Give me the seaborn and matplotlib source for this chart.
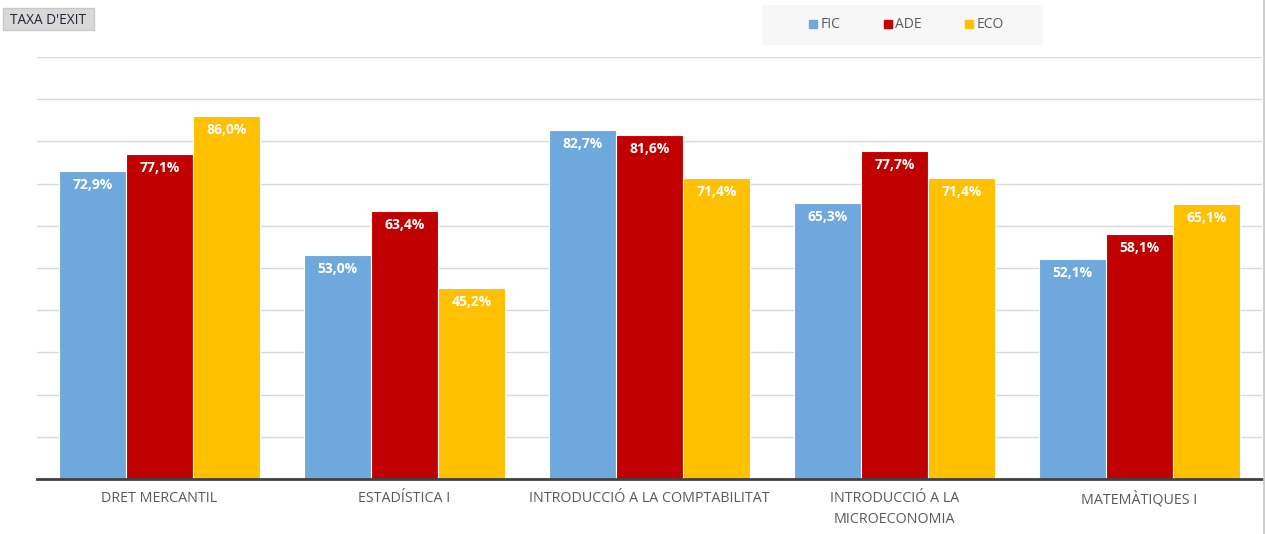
import pandas as pd
import matplotlib.pyplot as plt
import seaborn as sns
from matplotlib.lines import Line2D
from matplotlib.patches import Rectangle

subjects = ['DRET MERCANTIL', 'ESTADÍSTICA I', 'INTRODUCCIÓ A LA COMPTABILITAT',
            'INTRODUCCIÓ A LA\nMICROECONOMIA', 'MATEMÀTIQUES I']
fic = [72.9, 53.0, 82.7, 65.3, 52.1]
ade = [77.1, 63.4, 81.6, 77.7, 58.1]
eco = [86.0, 45.2, 71.4, 71.4, 65.1]
groups = ['FIC', 'ADE', 'ECO']
colors = ['#6FA8DC', '#C00000', '#FFC000']

df = pd.DataFrame({
    'Assignatura': subjects * 3,
    'Grau': [g for g in groups for _ in subjects],
    'Taxa': fic + ade + eco,
})

sns.set_theme(style="white")
plt.rcParams['font.family'] = ['Open Sans', 'DejaVu Sans']

fig = plt.figure(figsize=(12.67, 5.34), dpi=100)
ax = fig.add_axes([37 / 1267, 1 - 479 / 534, (1262 - 37) / 1267, (479 - 57) / 534])

sns.barplot(data=df, x='Assignatura', y='Taxa', hue='Grau', palette=colors, saturation=1,
            width=0.82, gap=0, edgecolor='white', linewidth=0.8, ax=ax, legend=False)

ax.set_ylim(0, 100)
ax.set_yticks(range(0, 101, 10))
ax.yaxis.grid(True, color='#d9d9d9', linewidth=1)
ax.set_axisbelow(True)
ax.set_yticklabels([])
ax.tick_params(axis='y', length=0)
ax.tick_params(axis='x', length=0, pad=9, labelsize=10.3, labelcolor='#595959')
for lbl in ax.get_xticklabels():
    lbl.set_linespacing(1.5)
ax.set_xlabel('')
ax.set_ylabel('')
for s in ['top', 'right', 'left']:
    ax.spines[s].set_visible(False)
ax.spines['bottom'].set_color('#404040')
ax.spines['bottom'].set_linewidth(2)

for cont in ax.containers:
    for bar in cont:
        h = bar.get_height()
        ax.annotate(f'{h:.1f}'.replace('.', ',') + '%',
                    (bar.get_x() + bar.get_width() / 2, h),
                    xytext=(0, -10), textcoords='offset points',
                    ha='center', va='center', color='white',
                    fontsize=10, fontweight='bold')

# title badge
fig.patches.append(Rectangle((3 / 1267, 1 - 30 / 534), 91 / 1267, 22 / 534,
                             transform=fig.transFigure, facecolor='#d9d9d9',
                             edgecolor='#c8c8c8', linewidth=1))
fig.text(48.5 / 1267, 1 - 20 / 534, "TAXA D'EXIT", fontsize=9.8, color='#1f2637',
         va='center', ha='center')

# legend background
fig.patches.append(Rectangle((762 / 1267, 1 - 45 / 534), 281 / 1267, 40 / 534,
                             transform=fig.transFigure, facecolor='#f7f7f7',
                             edgecolor='none'))
handles = [Line2D([0], [0], marker='s', linestyle='', markersize=6,
                  markerfacecolor=c, markeredgecolor=c) for c in colors]
fig.legend(handles, groups, loc='center', ncol=3,
           bbox_to_anchor=(905 / 1267, 1 - 25 / 534),
           frameon=False, fontsize=10, handletextpad=0.05, columnspacing=2.9,
           handlelength=1.0, labelcolor='#595959')

# outer right border
fig.add_artist(Line2D([1264 / 1267, 1264 / 1267], [0, 1], color='#c8c8c8', linewidth=1.2))

fig.savefig('out.png', dpi=100)
